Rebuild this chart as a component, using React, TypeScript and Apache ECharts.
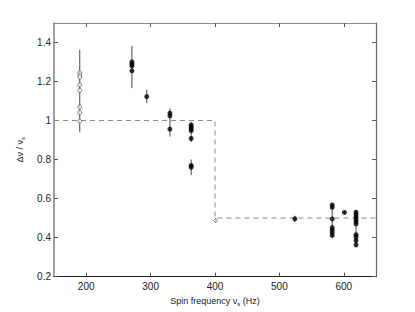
import React, { useEffect, useRef } from "react";
import * as echarts from "echarts";

const xTicks = [200, 300, 400, 500, 600];
const yTicks = [0.2, 0.4, 0.6, 0.8, 1.0, 1.2, 1.4];

// open circles (source at ~190 Hz)
const openPoints: [number, number][] = [
  [190, 1.245], [190, 1.233], [190, 1.223], [190, 1.183],
  [190, 1.154], [190, 1.069], [190, 1.041], [190, 0.997],
];

// filled points
const filledPoints: [number, number][] = [
  [271, 1.30], [271, 1.29], [271, 1.28], [271, 1.255],
  [294, 1.123],
  [330, 1.038], [330, 1.024], [330, 0.956],
  [363, 0.978], [363, 0.968], [363, 0.958], [363, 0.948], [363, 0.908],
  [363, 0.770], [363, 0.760],
  [524, 0.496],
  [582, 0.567], [582, 0.555], [582, 0.496], [582, 0.451], [582, 0.438],
  [582, 0.425], [582, 0.411],
  [601, 0.529],
  [619, 0.530], [619, 0.518], [619, 0.506], [619, 0.494], [619, 0.482],
  [619, 0.470], [619, 0.415], [619, 0.403], [619, 0.385], [619, 0.363],
];

// special marker at 401 Hz
const specialPoints: [number, number][] = [[401, 0.487]];

// error bars: [x, low, high]
const errorBars: [number, number, number][] = [
  [190, 0.94, 1.363],
  [271, 1.166, 1.383],
  [294, 1.09, 1.158],
  [330, 0.918, 1.062],
  [363, 0.89, 0.99],
  [363, 0.72, 0.80],
  [401, 0.475, 0.50],
  [524, 0.48, 0.512],
  [582, 0.40, 0.575],
  [601, 0.52, 0.538],
  [619, 0.35, 0.54],
];

// dashed reference (step) line
const stepLine: [number, number][] = [
  [150, 1.0], [400, 1.0], [400, 0.5], [650, 0.5],
];

const FONT = "'Liberation Sans', Arial, sans-serif";

const nameRich = {
  n: { fontSize: 9, fontFamily: FONT, color: "#222", lineHeight: 12, verticalAlign: "middle" },
  s: { fontSize: 6, fontFamily: FONT, color: "#222", lineHeight: 6, verticalAlign: "bottom" },
};

export default function App() {
  const ref = useRef<HTMLDivElement>(null);
  useEffect(() => {
    if (!ref.current) return;
    const chart = echarts.init(ref.current, null, { renderer: "svg" });
    const tickCommon = { inside: true, length: 4, lineStyle: { color: "#555", width: 1 } };
    chart.setOption({
      animation: false,
      backgroundColor: "#fff",
      grid: { left: 54, top: 23, right: 39, bottom: 35, containLabel: false },
      xAxis: [
        {
          type: "value", min: 150, max: 650, position: "bottom",
          axisLine: { lineStyle: { color: "#222", width: 1.2 } },
          axisTick: { ...tickCommon, customValues: xTicks },
          axisLabel: { customValues: xTicks, color: "#222", fontSize: 10, fontFamily: FONT, margin: 5 },
          splitLine: { show: false },
          name: "{n|Spin frequency ν}{s|s}{n| (Hz)}",
          nameLocation: "middle", nameGap: 8,
          nameTextStyle: { rich: nameRich },
        },
        {
          type: "value", min: 150, max: 650, position: "top",
          axisLine: { lineStyle: { color: "#888", width: 1.2 } },
          axisTick: { ...tickCommon, customValues: xTicks },
          axisLabel: { show: false },
          splitLine: { show: false },
        },
      ],
      yAxis: [
        {
          type: "value", min: 0.2, max: 1.5, position: "left",
          axisLine: { lineStyle: { color: "#888", width: 1.6 } },
          axisTick: { ...tickCommon, customValues: yTicks },
          axisLabel: { customValues: yTicks, color: "#222", fontSize: 10, fontFamily: FONT, margin: 3 },
          splitLine: { show: false },
          name: "{n|Δν / ν}{s|s}",
          nameLocation: "middle", nameGap: 26, nameRotate: 90,
          nameTextStyle: { rich: nameRich },
        },
        {
          type: "value", min: 0.2, max: 1.5, position: "right",
          axisLine: { lineStyle: { color: "#666", width: 1.2 } },
          axisTick: { ...tickCommon, customValues: yTicks },
          axisLabel: { show: false },
          splitLine: { show: false },
        },
      ],
      series: [
        {
          type: "line", data: stepLine, symbol: "none", silent: true,
          lineStyle: { color: "#8a8a8a", width: 1, type: [5, 4] },
          z: 1,
        },
        {
          type: "custom",
          data: errorBars,
          renderItem: (params: any, api: any) => {
            const x = api.value(0);
            const p1 = api.coord([x, api.value(1)]);
            const p2 = api.coord([x, api.value(2)]);
            return {
              type: "line",
              shape: { x1: p1[0], y1: p1[1], x2: p2[0], y2: p2[1] },
              style: { stroke: "#333", lineWidth: 0.9 },
            };
          },
          z: 2,
        },
        {
          type: "scatter", data: openPoints, symbol: "circle", symbolSize: 4,
          itemStyle: { color: "#fff", borderColor: "#555", borderWidth: 0.9 },
          z: 3,
        },
        {
          type: "scatter", data: filledPoints, symbol: "circle", symbolSize: 5,
          itemStyle: { color: "#000" },
          z: 3,
        },
        {
          type: "scatter", data: specialPoints, symbol: "diamond", symbolSize: 4,
          itemStyle: { color: "#fff", borderColor: "#555", borderWidth: 0.8 },
          z: 3,
        },
      ],
    });
    return () => chart.dispose();
  }, []);
  return <div ref={ref} style={{ position: "absolute", left: 0, top: 0, width: 415, height: 312 }} />;
}
